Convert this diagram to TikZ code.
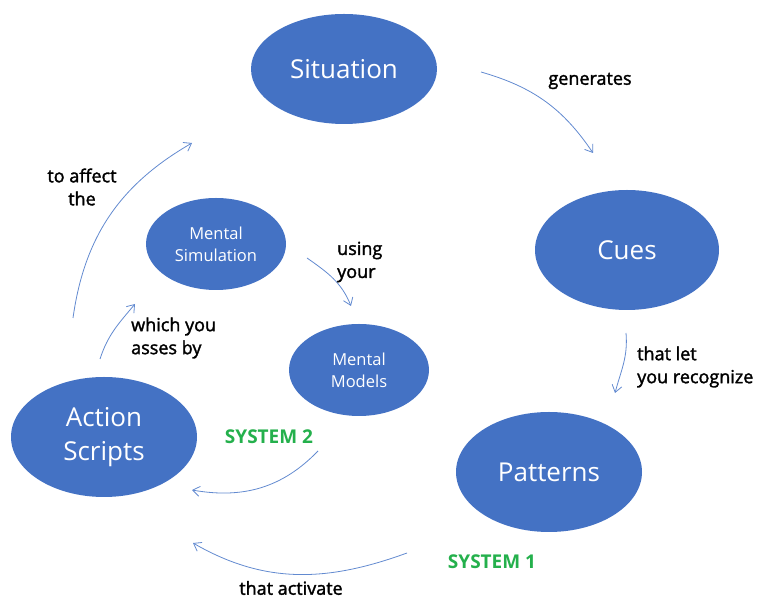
\documentclass[tikz,border=0pt]{standalone}
\usepackage{fontspec}
\setmainfont{Open Sans}
\newfontfamily\labelfont[FakeBold=1.8]{Open Sans}
\usetikzlibrary{arrows.meta,shapes.geometric}
\definecolor{scriptblue}{RGB}{68,114,196}
\definecolor{flowblue}{RGB}{98,138,208}
\definecolor{systemgreen}{RGB}{36,176,76}

\begin{document}
\begin{tikzpicture}[x=1pt, y=1pt, >={Straight Barb[length=7pt,width=10pt]},
  bubble/.style={ellipse, fill=scriptblue, text=white, inner sep=0pt, align=center},
  big/.style={bubble, font=\fontsize{26}{34}\selectfont},
  small/.style={bubble, font=\fontsize{16.5}{22}\selectfont, minimum width=140, minimum height=92},
  flow/.style={->, flowblue, line width=0.8pt},
  words/.style={font=\labelfont\fontsize{18}{23}\selectfont, align=left, inner sep=0pt},
  system/.style={font=\bfseries\fontsize{19}{22}\selectfont, text=systemgreen, inner sep=0pt}]
 \useasboundingbox (0,0) rectangle (758,599);
 % the four big bubbles
 \node[big, minimum width=186, minimum height=110] (situation) at (344,530) {Situation};
 \node[big, minimum width=184, minimum height=120] (cues) at (627,349) {Cues};
 \node[big, minimum width=186, minimum height=120] (patterns) at (549,127) {Patterns};
 \node[big, minimum width=186, minimum height=120] (scripts) at (104,162) {Action\\Scripts};
 % the two small bubbles
 \node[small] (simulation) at (216,355) {Mental\\Simulation};
 \node[small] (models) at (359,229) {Mental\\Models};
 % free ends of the connectors
 \coordinate (gen-a) at (481,527);
 \coordinate (gen-b) at (593,446);
 \coordinate (let-a) at (626,266);
 \coordinate (let-b) at (615,206);
 \coordinate (act-a) at (407,46);
 \coordinate (act-b) at (193,56);
 \coordinate (sys-a) at (318,148);
 \coordinate (sys-b) at (192,109);
 \coordinate (ass-a) at (100,240);
 \coordinate (ass-b) at (135,295);
 \coordinate (aff-a) at (73,281);
 \coordinate (aff-b) at (192,456);
 \coordinate (use-a) at (307,341);
 \coordinate (use-b) at (351,293);
 \draw[flow] (gen-a) to[out=-16, in=124] (gen-b);
 \draw[flow] (let-a) to[out=-85, in=75] (let-b);
 \draw[flow] (act-a) to[out=-160, in=-30] (act-b);
 \draw[flow] (sys-a) to[out=-134, in=-10] (sys-b);
 \draw[flow] (ass-a) to[out=72, in=-130] (ass-b);
 \draw[flow] (aff-a) to[out=82, in=-150] (aff-b);
 \draw[flow] (use-a) to[out=-35, in=112] (use-b);
 % labels
 \node[words] (generates) at (590,518) {generates};
 \node[words, anchor=west] (thatlet) at (637,232) {that let\\you recognize};
 \node[words] (activate) at (291,11) {that activate};
 \node[words, anchor=west] (asses) at (131,261) {which you\\asses by};
 \node[words, align=center] (affect) at (82,412) {to affect\\the};
 \node[words, anchor=west] (using) at (337,337) {using\\your};
 \node[system] (sys2) at (269,162) {SYSTEM 2};
 \node[system] (sys1) at (492,37) {SYSTEM 1};
\end{tikzpicture}
\end{document}
